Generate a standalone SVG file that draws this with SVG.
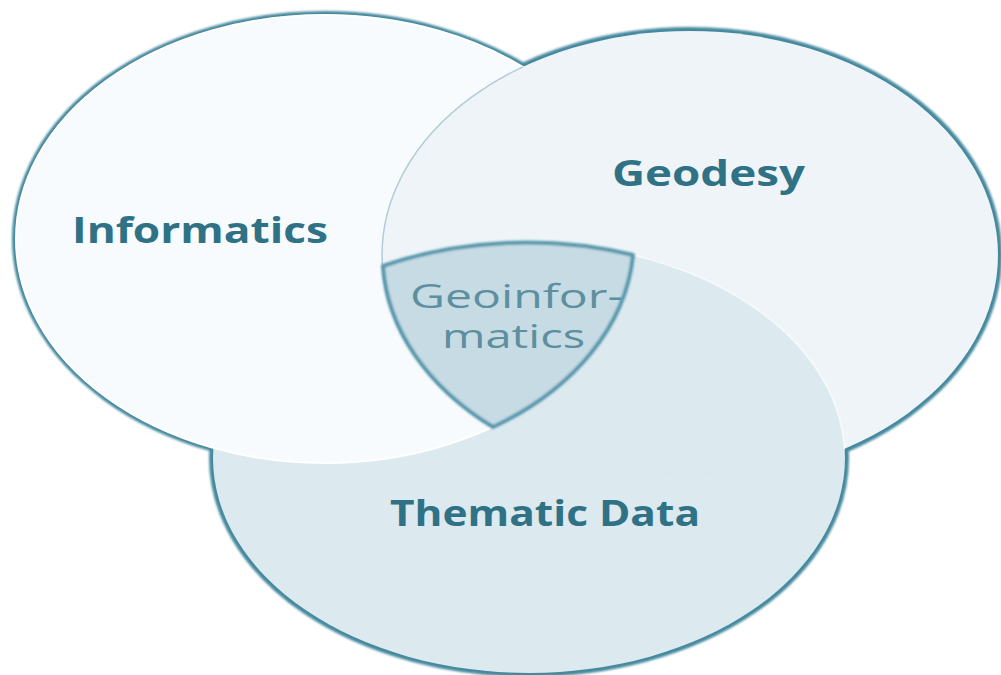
<svg xmlns="http://www.w3.org/2000/svg" width="1001" height="675" viewBox="0 0 1001 675">
<style>
.lbl{font-family:"Open Sans","Liberation Sans",sans-serif;font-weight:700;font-size:36px;fill:#2f7286}
.lens-lbl{font-family:"Open Sans","Liberation Sans",sans-serif;font-weight:400;font-size:32px;fill:#5d909f}
.outline{fill:none;stroke:#45899e;stroke-width:8}
</style>
<defs>
<filter id="soft" x="-5%" y="-5%" width="110%" height="110%"><feGaussianBlur stdDeviation="0.8"/></filter>
<clipPath id="clipG"><ellipse cx="690" cy="255" rx="308" ry="224"/></clipPath>
<clipPath id="clipI"><ellipse cx="325" cy="239" rx="309" ry="224"/></clipPath>
</defs>
<rect width="1001" height="675" fill="#ffffff"/>
<g id="outlines" filter="url(#soft)">
<ellipse class="outline" cx="325" cy="239" rx="309" ry="224"/>
<ellipse class="outline" cx="690" cy="255" rx="308" ry="224"/>
<ellipse class="outline" cx="529" cy="458" rx="316" ry="215"/>
</g>
<g id="thematic">
<ellipse cx="529" cy="458" rx="316" ry="215" fill="#dce9ef"/>
</g>
<g id="informatics">
<ellipse cx="325" cy="239" rx="309" ry="224" fill="#f7fbfd" stroke="#ffffff" stroke-width="2"/>
</g>
<g id="geodesy">
<ellipse cx="690" cy="255" rx="308" ry="224" fill="#eef4f7"/>
<ellipse cx="690" cy="255" rx="308" ry="224" fill="none" stroke="#b3ccd6" stroke-width="1.5" clip-path="url(#clipI)"/>
</g>
<g id="thematic-over" clip-path="url(#clipG)">
<ellipse cx="529" cy="458" rx="316" ry="215" fill="#dce9ef" stroke="#f6f9fb" stroke-width="2"/>
</g>
<g id="geoinformatics">
<path d="M383,266 A316,215 0 0 1 633,255 A309,224 0 0 1 493,427 A308,224 0 0 1 383,266 Z" fill="#c6dbe4" stroke="#5797ac" stroke-width="4" stroke-linejoin="round" filter="url(#soft)"/>
<text class="lens-lbl" x="410" y="308" textLength="213" lengthAdjust="spacingAndGlyphs">Geoinfor-</text>
<text class="lens-lbl" x="442" y="348" textLength="143" lengthAdjust="spacingAndGlyphs">matics</text>
</g>
<g id="labels">
<text class="lbl" x="72" y="243" textLength="256" lengthAdjust="spacingAndGlyphs">Informatics</text>
<text class="lbl" x="612" y="186" textLength="193" lengthAdjust="spacingAndGlyphs">Geodesy</text>
<text class="lbl" x="390" y="526" textLength="310" lengthAdjust="spacingAndGlyphs">Thematic Data</text>
</g>
</svg>
